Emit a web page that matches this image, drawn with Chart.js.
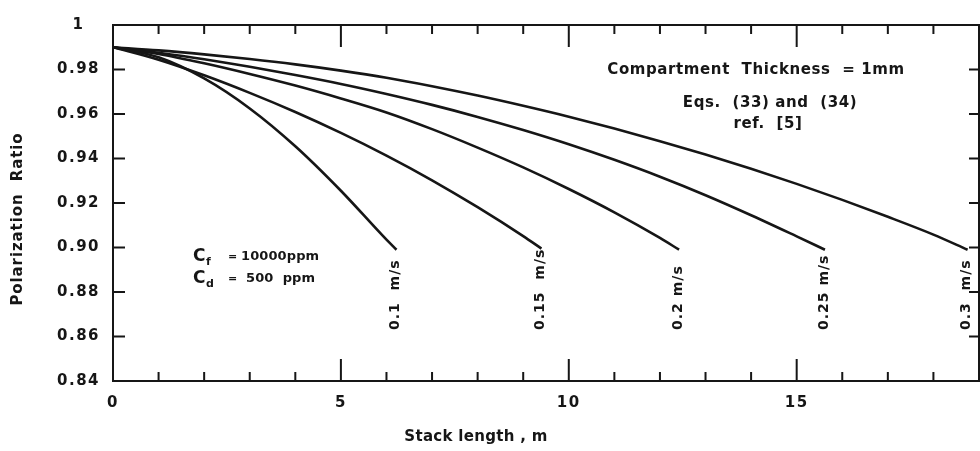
<!DOCTYPE html>
<html>
<head>
<meta charset="utf-8">
<script src="https://cdn.jsdelivr.net/npm/chart.js@4.4.1/dist/chart.umd.min.js"></script>
<style>
  html, body { margin: 0; padding: 0; background: #fff; }
</style>
</head>
<body>
<canvas id="chart" width="980" height="451"></canvas>
<script>
// stack length (m) and polarization ratio, one pair of arrays per velocity
const speedLabels = ['0.1  m/s', '0.15  m/s', '0.2 m/s', '0.25 m/s', '0.3  m/s'];

const len01 = [0, 1, 2, 3, 4, 5, 6, 6.22];
const ratio01 = [0.990, 0.9855, 0.976, 0.9625, 0.9455, 0.9255, 0.9035, 0.899];

const len015 = [0, 1, 2, 3, 4, 5, 6, 7, 8, 9, 9.4];
const ratio015 = [0.990, 0.9844, 0.9774, 0.9695, 0.9609, 0.9515, 0.9413, 0.9302, 0.9181, 0.9051, 0.8995];

const len02 = [0, 1, 2, 3, 4, 5, 6, 7, 8, 9, 10, 11, 12, 12.42];
const ratio02 = [0.990, 0.987, 0.9828, 0.978, 0.9728, 0.967, 0.9607, 0.9532, 0.9449, 0.936, 0.9263, 0.9158, 0.9043, 0.899];

const len025 = [0, 1, 2, 3, 4, 5, 6, 7, 8, 9, 10, 11, 12, 13, 14, 15, 15.62];
const ratio025 = [0.990, 0.9875, 0.9846, 0.9812, 0.9775, 0.9735, 0.969, 0.9641, 0.9587, 0.9528, 0.9464, 0.9394, 0.9318, 0.9235, 0.9145, 0.905, 0.899];

const len03 = [0, 1, 2, 3, 4, 5, 6, 7, 8, 9, 10, 11, 12, 13, 14, 15, 16, 17, 18, 18.75];
const ratio03 = [0.990, 0.9886, 0.9868, 0.9847, 0.9823, 0.9795, 0.9763, 0.9725, 0.9683, 0.9637, 0.9588, 0.9535, 0.9478, 0.9418, 0.9354, 0.9286, 0.9214, 0.9138, 0.9058, 0.899];

const lengthTicks = [0, 5, 10, 15];
const ratioTicks = [0.84, 0.86, 0.88, 0.90, 0.92, 0.94, 0.96, 0.98, 1];

const FONT = '"DejaVu Sans", sans-serif';
const INK = '#161616';

const curves = [
  [len01, ratio01], [len015, ratio015], [len02, ratio02], [len025, ratio025], [len03, ratio03]
];

const toPoints = (xs, ys) => xs.map((x, i) => ({ x: x, y: ys[i] }));

// frame, inward ticks and the hand lettering of the original figure
const figurePlugin = {
  id: 'figure',
  beforeDraw(chart) {
    const ctx = chart.ctx;
    ctx.save();
    ctx.fillStyle = '#ffffff';
    ctx.fillRect(0, 0, chart.width, chart.height);
    ctx.restore();
    ctx.letterSpacing = '1.5px';
  },
  beforeDatasetsDraw(chart) {
    const { ctx, chartArea: a, scales: { x, y } } = chart;
    ctx.save();
    ctx.strokeStyle = INK;
    ctx.lineWidth = 2;
    ctx.strokeRect(a.left, a.top, a.right - a.left, a.bottom - a.top);

    ctx.beginPath();
    for (let v = 1; v < x.max; v++) {
      const px = x.getPixelForValue(v);
      const len = v % 5 === 0 ? 22 : 9;
      ctx.moveTo(px, a.bottom); ctx.lineTo(px, a.bottom - len);
      ctx.moveTo(px, a.top); ctx.lineTo(px, a.top + len);
    }
    ratioTicks.slice(1, -1).forEach(v => {
      const py = y.getPixelForValue(v);
      ctx.moveTo(a.left, py); ctx.lineTo(a.left + 12, py);
      ctx.moveTo(a.right, py); ctx.lineTo(a.right - 10, py);
    });
    ctx.stroke();
    ctx.restore();
  },
  afterDraw(chart) {
    const { ctx, scales: { x } } = chart;
    ctx.save();
    ctx.fillStyle = INK;
    ctx.textBaseline = 'middle';
    ctx.textAlign = 'center';

    // axis titles
    ctx.font = `bold 15px ${FONT}`;
    ctx.letterSpacing = '0.3px';
    ctx.fillText('Stack length , m', 476, 437);
    ctx.letterSpacing = '0.9px';
    ctx.save();
    ctx.translate(18, 219);
    ctx.rotate(-Math.PI / 2);
    ctx.fillText('Polarization  Ratio', 0, 0);
    ctx.restore();

    // notes in the upper right
    ctx.font = `bold 15px ${FONT}`;
    ctx.letterSpacing = '0.6px';
    ctx.fillText('Compartment  Thickness  = 1mm', 756, 70);
    ctx.fillText('Eqs.  (33) and  (34)', 770, 103);
    ctx.fillText('ref.  [5]', 768, 124);

    // concentrations
    ctx.textAlign = 'left';
    const conc = [['f', '10000ppm', 257, 241], ['d', '500  ppm', 279, 246]];
    conc.forEach(([sub, val, py, vx]) => {
      ctx.letterSpacing = '0px';
      ctx.font = `bold 17px ${FONT}`;
      ctx.fillText('C', 193, py);
      ctx.font = `bold 11px ${FONT}`;
      ctx.fillText(sub, 206, py + 5);
      ctx.fillText('=', 228, py);
      ctx.font = `bold 13px ${FONT}`;
      ctx.letterSpacing = '0.1px';
      ctx.fillText(val, vx, py);
    });

    // velocity labels under the end of each curve
    ctx.font = `bold 14px ${FONT}`;
    ctx.letterSpacing = '1px';
    curves.forEach(([xs], i) => {
      const px = x.getPixelForValue(xs[xs.length - 1]) - 1;
      ctx.save();
      ctx.translate(px, 330);
      ctx.rotate(-Math.PI / 2);
      ctx.fillText(speedLabels[i], 0, 0);
      ctx.restore();
    });
    ctx.restore();
  }
};

new Chart(document.getElementById('chart'), {
  type: 'scatter',
  data: {
    datasets: curves.map(([xs, ys], i) => ({
      label: speedLabels[i],
      data: toPoints(xs, ys),
      showLine: true,
      borderColor: INK,
      borderWidth: 2.6,
      pointRadius: 0,
      cubicInterpolationMode: 'monotone',
      fill: false
    }))
  },
  options: {
    responsive: false,
    animation: false,
    layout: { padding: { top: 16, right: 1, left: 0, bottom: 0 } },
    plugins: { legend: { display: false }, tooltip: { enabled: false } },
    scales: {
      x: {
        type: 'linear',
        min: 0,
        max: 19,
        afterBuildTicks: s => { s.ticks = lengthTicks.map(v => ({ value: v })); },
        afterFit: s => { s.height = 70; },
        grid: { display: false, drawTicks: false },
        border: { display: false },
        ticks: {
          padding: 13,
          maxRotation: 0,
          autoSkip: false,
          color: INK,
          font: { family: FONT, size: 15, weight: 'bold' }
        }
      },
      y: {
        type: 'linear',
        min: 0.84,
        max: 1,
        afterBuildTicks: s => { s.ticks = ratioTicks.map(v => ({ value: v })); },
        afterFit: s => { s.width = 113; },
        grid: { display: false, drawTicks: false },
        border: { display: false },
        ticks: {
          padding: 16,
          crossAlign: 'center',
          color: INK,
          font: { family: FONT, size: 15, weight: 'bold' },
          callback: v => v === 1 ? '1' : v.toFixed(2)
        }
      }
    }
  },
  plugins: [figurePlugin]
});
</script>
</body>
</html>
